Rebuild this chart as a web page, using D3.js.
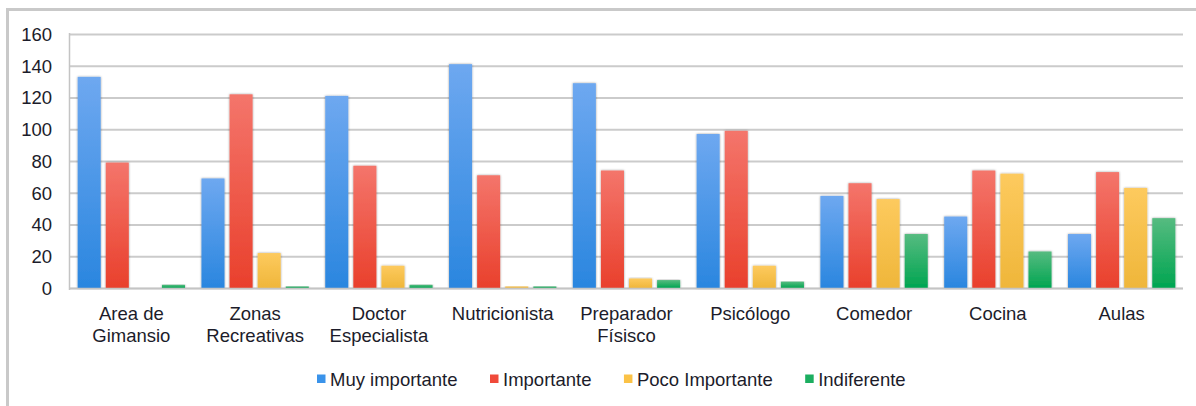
<!DOCTYPE html>
<html>
<head>
<meta charset="utf-8">
<script src="https://cdn.jsdelivr.net/npm/d3@7"></script>
<style>
  html, body { margin: 0; padding: 0; background: #fff; }
  svg { display: block; }
  text { font-family: "Liberation Sans", Arial, Helvetica, sans-serif; fill: #1c1c2a; }
</style>
</head>
<body>
<svg id="chart" width="1196" height="406"></svg>
<script>
const categories = [
  ["Area de", "Gimansio"],
  ["Zonas", "Recreativas"],
  ["Doctor", "Especialista"],
  ["Nutricionista"],
  ["Preparador", "Físisco"],
  ["Psicólogo"],
  ["Comedor"],
  ["Cocina"],
  ["Aulas"]
];
const seriesNames = ["Muy importante", "Importante", "Poco Importante", "Indiferente"];
const muyImportante  = [133, 69, 121, 141, 129, 97, 58, 45, 34];
const importante     = [79, 122, 77, 71, 74, 99, 66, 74, 73];
const pocoImportante = [0, 22, 14, 1, 6, 14, 56, 72, 63];
const indiferente    = [2, 1, 2, 1, 5, 4, 34, 23, 44];
const yTicks = [0, 20, 40, 60, 80, 100, 120, 140, 160];

const seriesValues = [muyImportante, importante, pocoImportante, indiferente];
const colorsTop    = ["#6ea8f0", "#f4756b", "#fdca5e", "#56bb80"];
const colorsBottom = ["#2a86df", "#e9402c", "#efb63a", "#00a551"];
const colorsLegend = ["#3a93ea", "#f04a3a", "#fbc246", "#1cae60"];

const FS = 18.5;
const svg = d3.select("#chart");
const W = 1196, H = 406;
const plot = { left: 70, right: 1183, top: 34, bottom: 288 };

// frame
svg.append("line").attr("x1", 7.5).attr("x2", 7.5).attr("y1", 9).attr("y2", H)
  .attr("stroke", "#c9c9c9").attr("stroke-width", 3);
svg.append("line").attr("x1", 6).attr("x2", W).attr("y1", 9.5).attr("y2", 9.5)
  .attr("stroke", "#c9c9c9").attr("stroke-width", 3);

const defs = svg.append("defs");
seriesNames.forEach((s, i) => {
  const g = defs.append("linearGradient").attr("id", "grad" + i)
    .attr("x1", 0).attr("y1", 0).attr("x2", 0).attr("y2", 1);
  g.append("stop").attr("offset", "0%").attr("stop-color", colorsTop[i]);
  g.append("stop").attr("offset", "100%").attr("stop-color", colorsBottom[i]);
});
const f = defs.append("filter").attr("id", "shadow")
  .attr("x", "-30%").attr("y", "-10%").attr("width", "160%").attr("height", "120%");
f.append("feDropShadow").attr("dx", 0).attr("dy", 0).attr("stdDeviation", 1)
  .attr("flood-color", "#000").attr("flood-opacity", 0.4);

const y = d3.scaleLinear().domain([0, 160]).range([plot.bottom, plot.top]);
const x0 = d3.scaleBand().domain(d3.range(categories.length))
  .range([plot.left, plot.right]).paddingInner(0.133).paddingOuter(0.062);
const x1 = d3.scaleBand().domain(d3.range(seriesNames.length))
  .range([0, x0.bandwidth()]).paddingInner(0.18).paddingOuter(0);

// gridlines
const grid = svg.append("g").attr("transform", `translate(${plot.left},0)`)
  .call(d3.axisLeft(y).tickValues(yTicks).tickSize(-(plot.right - plot.left)).tickFormat(""));
grid.select(".domain").remove();
grid.selectAll("line").attr("stroke", "#cbcbcb").attr("stroke-width", 2.2);

// y labels
const yAx = svg.append("g").attr("transform", `translate(52,0)`)
  .call(d3.axisLeft(y).tickValues(yTicks).tickSize(0).tickPadding(0));
yAx.select(".domain").remove();
yAx.selectAll("text").attr("font-size", FS).attr("text-anchor", "end").attr("dy", "0.34em")
  .style("font-family", '"Liberation Sans", Arial, sans-serif').attr("fill", "#1c1c2a");

// left axis line
svg.append("line").attr("x1", plot.left - 0.5).attr("x2", plot.left - 0.5)
  .attr("y1", plot.top - 1).attr("y2", plot.bottom + 2)
  .attr("stroke", "#c4c4c4").attr("stroke-width", 1.5);

// bars
const groups = svg.append("g").selectAll("g").data(categories).join("g")
  .attr("transform", (d, i) => `translate(${x0(i)},0)`);
groups.selectAll("rect")
  .data((d, ci) => seriesValues.map((vals, si) => ({ si, v: vals[ci] })))
  .join("rect")
  .attr("x", d => x1(d.si))
  .attr("width", x1.bandwidth())
  .attr("y", d => y(d.v))
  .attr("height", d => Math.max(0, y(0) - y(d.v)))
  .attr("fill", d => `url(#grad${d.si})`)
  .attr("filter", "url(#shadow)");

// baseline
svg.append("line").attr("x1", plot.left - 1).attr("x2", plot.right)
  .attr("y1", plot.bottom + 0.5).attr("y2", plot.bottom + 0.5)
  .attr("stroke", "#c4c4c4").attr("stroke-width", 1.5);

// x labels
const xl = svg.append("g");
categories.forEach((lines, i) => {
  const cx = x0(i) + x0.bandwidth() / 2;
  const t = xl.append("text").attr("x", cx)
    .attr("y", 320).attr("text-anchor", "middle").attr("font-size", FS);
  lines.forEach((ln, k) => {
    t.append("tspan").attr("x", cx).attr("dy", k === 0 ? 0 : 21.5).text(ln);
  });
});

// legend
const leg = svg.append("g");
let lx = 317;
seriesNames.forEach((s, i) => {
  leg.append("rect").attr("x", lx).attr("y", 374.5).attr("width", 8.5).attr("height", 8.5)
    .attr("fill", colorsLegend[i]);
  const t = leg.append("text").attr("x", lx + 13).attr("y", 386)
    .attr("font-size", FS).text(s);
  lx += 13 + t.node().getComputedTextLength() + 32.5;
});
</script>
</body>
</html>
